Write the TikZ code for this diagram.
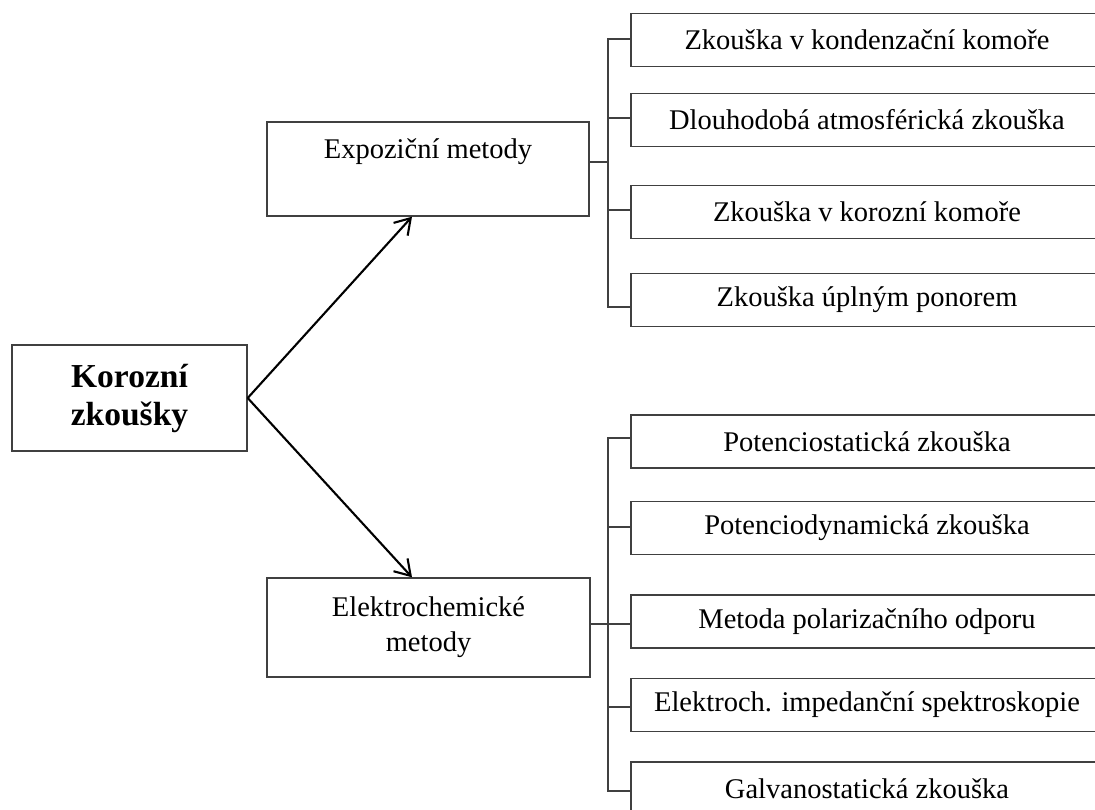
\documentclass[tikz,border=0pt]{standalone}
\usepackage{fontspec}
\setmainfont{Liberation Serif}
\usetikzlibrary{arrows.meta,calc}
\begin{document}
\begin{tikzpicture}[x=1pt,y=-1pt,
  box/.style={draw=black!75, line width=1.4pt, inner sep=0pt, align=center,
    font=\fontsize{28.5}{35}\selectfont},
  leaf/.style={box, minimum width=472, minimum height=53},
  link/.style={draw=black!75, line width=1.4pt},
  arr/.style={line width=2.1pt, -{Straight Barb[length=15pt,width=19pt,line width=2.1pt]}}
]
\useasboundingbox (0,0) rectangle (1095,809);
\clip (0,0) rectangle (1095,809);

% main boxes
\node[box, font=\bfseries\fontsize{33.5}{38}\selectfont, minimum width=235, minimum height=106] (root) at (129.5,398) {Korozní\\zkoušky};
\node[box, minimum width=322, text height=36.5pt, text depth=57.5pt] (expo) at (428,169) {Expoziční metody};
\node[box, minimum width=323, minimum height=99] (elek) at (428.5,627.5) {Elektrochemické\\metody};

% leaves of expo
\node[leaf] (e1) at (867,40)  {Zkouška v kondenzační komoře};
\node[leaf] (e2) at (867,120) {Dlouhodobá atmosférická zkouška};
\node[leaf] (e3) at (867,212) {Zkouška v korozní komoře};
\node[leaf] (e4) at (867,300) {Zkouška úplným ponorem};

% leaves of elek
\node[leaf] (k1) at (867,441.5) {Potenciostatická zkouška};
\node[leaf] (k2) at (867,528)   {Potenciodynamická zkouška};
\node[leaf] (k3) at (867,621.5) {Metoda polarizačního odporu};
\node[leaf] (k4) at (867,705)   {Elektroch. impedanční spektroskopie};
\node[leaf] (k5) at (867,788.5) {Galvanostatická zkouška};

% bus coordinates
\coordinate (bx) at (608,0);

% expo connectors
\draw[link] ($(e1.west)+(0,-1)$) -| ($(bx |- e4.west)+(0,7)$) -- ($(e4.west)+(0,7)$);
\draw[link] ($(e2.west)+(0,-2)$) -- ($(bx |- e2.west)+(0,-2)$);
\draw[link] ($(e3.west)+(0,-2)$) -- ($(bx |- e3.west)+(0,-2)$);
\draw[link] ($(expo.east)+(0,-7)$) -- ($(bx |- expo.east)+(0,-7)$);

% elek connectors
\draw[link] ($(k1.west)+(0,-3.5)$) -| ($(bx |- k5.west)+(0,2.5)$) -- ($(k5.west)+(0,2.5)$);
\draw[link] ($(k2.west)+(0,-1)$) -- ($(bx |- k2.west)+(0,-1)$);
\draw[link] ($(k3.west)+(0,2.5)$) -- ($(bx |- k3.west)+(0,2.5)$);
\draw[link] ($(k4.west)+(0,2)$) -- ($(bx |- k4.west)+(0,2)$);
\draw[link] ($(elek.east)+(0,-3.5)$) -- ($(bx |- elek.east)+(0,-3.5)$);

% arrows
\draw[arr] (root.east) -- ($(expo.south)+(-16,0)$);
\draw[arr] (root.east) -- ($(elek.north)+(-16.5,0)$);
\end{tikzpicture}
\end{document}
